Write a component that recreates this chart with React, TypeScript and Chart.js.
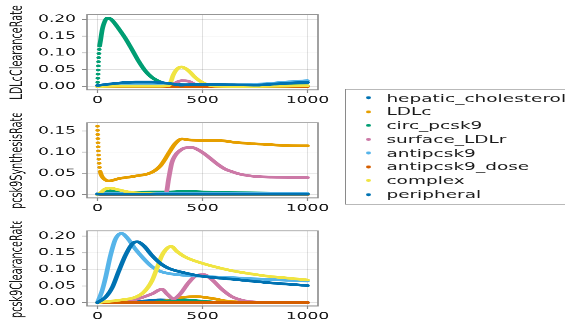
import React, { useEffect, useRef } from "react";
import { Chart, registerables } from "chart.js";

Chart.register(...registerables);

type Pts = [number, number][];

// ---------------- data ----------------
const SERIES_NAMES = [
  "hepatic_cholesterol",
  "LDLc",
  "circ_pcsk9",
  "surface_LDLr",
  "antipcsk9",
  "antipcsk9_dose",
  "complex",
  "peripheral",
];
const SERIES_COLORS = ["#0072B2", "#E69F00", "#009E73", "#CC79A7", "#56B4E9", "#D55E00", "#F0E442", "#0072B2"];
const PANEL_TITLES = ["LDLcClearanceRate", "pcsk9SynthesisRate", "pcsk9ClearanceRate"];
const X_TICKS = [0, 500, 1000];
const Y_TICKS_1 = [0, 0.05, 0.1, 0.15, 0.2];
const Y_TICKS_2 = [0, 0.05, 0.1, 0.15];
const Y_TICKS_3 = [0, 0.05, 0.1, 0.15, 0.2];

// Panel 1: LDLcClearanceRate
const hep1: Pts = [[0, 0.002], [100, 0.009], [180, 0.012], [260, 0.012], [340, 0.008], [420, 0.005], [500, 0.004], [600, 0.004], [700, 0.003], [760, 0.003], [840, 0.006], [920, 0.009], [1000, 0.012]];
const ldl1: Pts = [[0, 0], [300, 0], [360, 0.002], [420, 0.001], [500, 0], [1000, 0]];
const circ1: Pts = [[0, 0], [3, 0.04], [6, 0.09], [10, 0.12], [14, 0.135], [22, 0.167], [30, 0.186], [46, 0.203], [62, 0.201], [78, 0.191], [101, 0.172], [133, 0.143], [165, 0.109], [196, 0.075], [228, 0.046], [259, 0.027], [291, 0.0155], [323, 0.008], [354, 0.004], [400, 0.003], [500, 0.003], [600, 0.004], [700, 0.003], [800, 0.002], [900, 0.002], [1000, 0.002]];
const surf1: Pts = [[0, 0], [330, 0], [350, 0.003], [370, 0.01], [400, 0.017], [430, 0.016], [465, 0.006], [490, 0.001], [550, 0], [1000, 0]];
const anti1: Pts = [[0, 0.001], [100, 0.004], [200, 0.006], [300, 0.005], [400, 0.003], [500, 0.003], [600, 0.004], [700, 0.005], [800, 0.008], [900, 0.013], [1000, 0.017]];
const dose1: Pts = [[0, 0], [1000, 0]];
const complex1: Pts = [[0, 0], [100, 0.001], [300, 0.001], [340, 0.003], [350, 0.015], [360, 0.033], [378, 0.051], [400, 0.058], [420, 0.053], [440, 0.043], [465, 0.027], [497, 0.0125], [530, 0.004], [560, 0.001], [700, 0], [1000, 0.002]];
const periph1: Pts = [[0, 0.003], [100, 0.01], [180, 0.013], [260, 0.013], [340, 0.009], [400, 0.004], [450, 0.006], [560, 0.006], [640, 0.005], [760, 0.004], [840, 0.007], [920, 0.01], [1000, 0.012]];

// Panel 2: pcsk9SynthesisRate
const hep2: Pts = [[0, 0.001], [1000, 0.001]];
const ldl2: Pts = [[0, 0.161], [2, 0.13], [4, 0.105], [7, 0.08], [10, 0.062], [14, 0.052], [20, 0.044], [30, 0.0375], [54, 0.032], [101, 0.0375], [180, 0.0435], [259, 0.0525], [299, 0.0675], [320, 0.082], [339, 0.0975], [370, 0.12], [402, 0.131], [434, 0.129], [500, 0.1275], [576, 0.1275], [655, 0.123], [734, 0.12], [813, 0.118], [892, 0.1155], [1000, 0.115]];
const circ2: Pts = [[0, 0], [30, 0.004], [65, 0.009], [101, 0.0075], [180, 0.005], [259, 0.006], [340, 0.006], [418, 0.0075], [500, 0.006], [576, 0.005], [700, 0.004], [850, 0.003], [1000, 0.002]];
const surf2: Pts = [[0, 0], [320, 0], [326, 0.001], [339, 0.0375], [354, 0.075], [370, 0.092], [386, 0.101], [418, 0.11], [449, 0.111], [481, 0.105], [512, 0.095], [544, 0.0825], [576, 0.07], [608, 0.06], [640, 0.054], [671, 0.049], [734, 0.0435], [829, 0.041], [1000, 0.04]];
const anti2: Pts = [[0, 0.002], [1000, 0.002]];
const dose2: Pts = [[0, 0], [1000, 0]];
const complex2: Pts = [[0, 0], [14, 0.004], [38, 0.0135], [62, 0.015], [101, 0.011], [149, 0.006], [212, 0.003], [300, 0.001], [1000, 0.001]];
const periph2: Pts = [[0, 0.001], [1000, 0.001]];

// Panel 3: pcsk9ClearanceRate
const hep3: Pts = [[0, 0], [150, 0.001], [250, 0.006], [300, 0.008], [350, 0.007], [450, 0.004], [550, 0.001], [650, 0], [1000, 0]];
const ldl3: Pts = [[0, 0], [250, 0], [300, 0.003], [350, 0.008], [400, 0.015], [470, 0.018], [550, 0.012], [620, 0.004], [700, 0.001], [800, 0], [1000, 0]];
const circ3: Pts = [[0, 0], [250, 0.001], [320, 0.004], [420, 0.008], [480, 0.005], [560, 0.001], [650, 0], [1000, 0]];
const surf3: Pts = [[0, 0], [101, 0.002], [180, 0.009], [259, 0.026], [307, 0.04], [331, 0.026], [362, 0.0115], [394, 0.026], [434, 0.06], [473, 0.082], [506, 0.084], [544, 0.0695], [592, 0.04], [639, 0.018], [703, 0.005], [780, 0.001], [1000, 0]];
const anti3: Pts = [[0, 0], [22, 0.036], [38, 0.074], [62, 0.142], [85, 0.19], [114, 0.208], [141, 0.195], [180, 0.161], [220, 0.132], [259, 0.108], [299, 0.094], [354, 0.086], [500, 0.079], [655, 0.0745], [813, 0.0695], [1000, 0.065]];
const dose3: Pts = [[0, 0], [1000, 0]];
const complex3: Pts = [[0, 0], [101, 0.007], [180, 0.016], [220, 0.031], [259, 0.065], [283, 0.103], [307, 0.142], [331, 0.163], [351, 0.169], [378, 0.154], [418, 0.137], [500, 0.118], [576, 0.105], [655, 0.094], [734, 0.086], [813, 0.079], [892, 0.0745], [1000, 0.068]];
const periph3: Pts = [[0, 0], [38, 0.016], [70, 0.045], [101, 0.094], [133, 0.142], [165, 0.176], [188, 0.183], [220, 0.171], [259, 0.142], [299, 0.118], [339, 0.103], [418, 0.089], [500, 0.079], [655, 0.0695], [813, 0.06], [1000, 0.051]];

const PANEL1 = [hep1, ldl1, circ1, surf1, anti1, dose1, complex1, periph1];
const PANEL2 = [hep2, ldl2, circ2, surf2, anti2, dose2, complex2, periph2];
const PANEL3 = [hep3, ldl3, circ3, surf3, anti3, dose3, complex3, periph3];

// ---------------- layout (unscaled coords; whole page is squashed vertically) ----------------
const PAGE_H = 550;
const S = 323 / PAGE_H;
const FONT = "'DejaVu Sans', sans-serif";
const CANVAS_W = 345;
const FRAME_LEFT = 87;
const FRAME_RIGHT = 318;
const PAD_TOP = 12;
const X_AXIS_H = 40;
const FRAME_H = 132;

const framePlugin = {
  id: "frame",
  afterDatasetsDraw(chart: any) {
    const { ctx, chartArea } = chart;
    ctx.save();
    ctx.strokeStyle = "#8a8a8a";
    ctx.lineWidth = 1.6;
    ctx.strokeRect(chartArea.left, chartArea.top, chartArea.right - chartArea.left, chartArea.bottom - chartArea.top);
    ctx.restore();
  },
};

function Panel(props: {
  title: string;
  series: Pts[];
  yMin: number;
  yMax: number;
  yTicks: number[];
  top: number;
  leadDots: Record<number, number>;
}) {
  const ref = useRef<HTMLCanvasElement>(null);
  useEffect(() => {
    if (!ref.current) return;
    const datasets = props.series.map((pts, i) => {
      const lead = props.leadDots[i] || 0;
      return {
        label: SERIES_NAMES[i],
        data: pts.map(([x, y]) => ({ x, y })),
        borderColor: SERIES_COLORS[i],
        backgroundColor: SERIES_COLORS[i],
        borderWidth: 4.8,
        borderCapStyle: "round" as const,
        pointRadius: 0,
        cubicInterpolationMode: "monotone" as const,
        fill: false,
        order: SERIES_NAMES.length - 1 - i,
        segment: {
          borderDash: (c: any) => (c.p0DataIndex < lead ? [0, 7] : undefined),
        },
      };
    });
    const tickFont = { family: FONT, size: 17 };
    const grid = {
      color: "rgba(0,0,0,0.12)",
      lineWidth: 1,
      drawTicks: true,
      tickLength: 5,
      tickColor: "#8a8a8a",
      tickWidth: 1.2,
    };
    const chart = new Chart(ref.current, {
      type: "line",
      data: { datasets: datasets as any },
      options: {
        animation: false,
        responsive: false,
        maintainAspectRatio: false,
        devicePixelRatio: 2,
        layout: { padding: { top: PAD_TOP, left: 0, right: CANVAS_W - FRAME_RIGHT, bottom: 0 } },
        plugins: { legend: { display: false }, tooltip: { enabled: false } },
        scales: {
          x: {
            type: "linear",
            min: -50,
            max: 1050,
            afterBuildTicks: (s: any) => {
              s.ticks = X_TICKS.map((v) => ({ value: v }));
            },
            afterFit: (s: any) => {
              s.height = X_AXIS_H;
            },
            ticks: {
              callback: (v: any) => String(v),
              font: tickFont,
              color: "#1a1a1a",
              padding: 3,
              maxRotation: 0,
              autoSkip: false,
            },
            grid,
            border: { display: false },
          },
          y: {
            type: "linear",
            min: props.yMin,
            max: props.yMax,
            afterBuildTicks: (s: any) => {
              s.ticks = props.yTicks.map((v) => ({ value: v }));
            },
            afterFit: (s: any) => {
              s.width = FRAME_LEFT;
            },
            ticks: {
              callback: (v: any) => Number(v).toFixed(2),
              font: tickFont,
              color: "#1a1a1a",
              padding: 6,
              autoSkip: false,
            },
            title: {
              display: true,
              text: props.title,
              font: { family: FONT, size: 16.5 },
              color: "#1a1a1a",
              padding: { top: 8, bottom: 0 },
            },
            grid,
            border: { display: false },
          },
        },
      },
      plugins: [framePlugin],
    });
    return () => chart.destroy();
  }, []);
  return (
    <canvas
      ref={ref}
      width={CANVAS_W}
      height={FRAME_H + PAD_TOP + X_AXIS_H}
      style={{
        position: "absolute",
        left: 0,
        top: props.top - PAD_TOP,
        width: CANVAS_W,
        height: FRAME_H + PAD_TOP + X_AXIS_H,
      }}
    />
  );
}

function Legend() {
  const boxTop = 151.5;
  const boxH = 197.5;
  return (
    <div
      style={{
        position: "absolute",
        left: 345,
        top: boxTop,
        width: 260,
        height: boxH,
        border: "1.6px solid #8a8a8a",
        boxSizing: "border-box",
        fontFamily: FONT,
        fontSize: 18.5,
        color: "#1a1a1a",
      }}
    >
      {SERIES_NAMES.map((name, i) => {
        const cy = 15.9 + i * 23.5 - 1.6;
        return (
          <div key={name} style={{ position: "absolute", left: 0, top: cy - 11, height: 22, width: 300 }}>
            <span
              style={{
                position: "absolute",
                left: 369 - 345 - 1.6 - 2.5,
                top: 11 - 2.5,
                width: 5,
                height: 5,
                borderRadius: "50%",
                background: SERIES_COLORS[i],
              }}
            />
            <span
              style={{
                position: "absolute",
                left: 387 - 345 - 1.6,
                top: 0,
                lineHeight: "22px",
                whiteSpace: "nowrap",
              }}
            >
              {name}
            </span>
          </div>
        );
      })}
    </div>
  );
}

export default function App() {
  return (
    <div
      style={{
        position: "absolute",
        left: 0,
        top: 0,
        width: 565,
        height: 323,
        overflow: "hidden",
        background: "#ffffff",
      }}
    >
      <div
        style={{
          position: "absolute",
          left: 0,
          top: 0,
          width: 565,
          height: PAGE_H,
          transform: `scaleY(${S})`,
          transformOrigin: "0 0",
        }}
      >
        <Panel title={PANEL_TITLES[0]} series={PANEL1} yMin={-0.0102} yMax={0.2132} yTicks={Y_TICKS_1} top={21} leadDots={{ 2: 3 }} />
        <Panel title={PANEL_TITLES[1]} series={PANEL2} yMin={-0.008} yMax={0.169} yTicks={Y_TICKS_2} top={205} leadDots={{ 1: 5 }} />
        <Panel title={PANEL_TITLES[2]} series={PANEL3} yMin={-0.0103} yMax={0.2155} yTicks={Y_TICKS_3} top={389} leadDots={{}} />
        <Legend />
      </div>
    </div>
  );
}
